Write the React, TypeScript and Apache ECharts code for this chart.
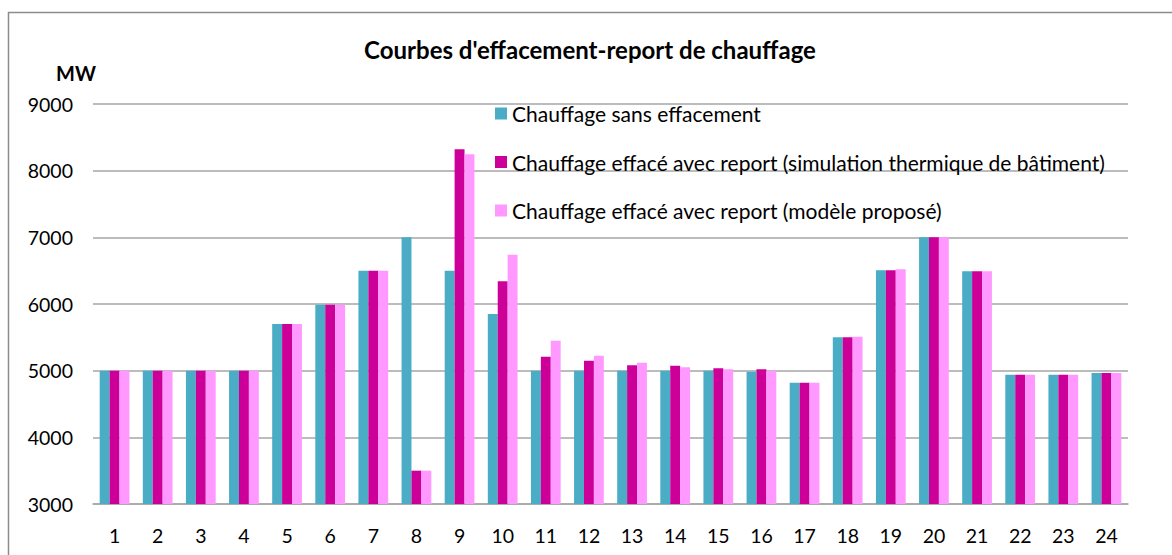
import React, { useEffect, useRef } from "react";
import * as echarts from "echarts";

const hours = ["1","2","3","4","5","6","7","8","9","10","11","12","13","14","15","16","17","18","19","20","21","22","23","24"];
const sansEffacement = [5000,5000,5000,5000,5700,5990,6500,7000,6500,5850,5000,5000,5000,5000,5000,4985,4820,5500,6505,7000,6490,4940,4940,4965];
const simulationThermique = [5000,5000,5000,5000,5700,5990,6500,3500,8320,6340,5210,5150,5080,5075,5035,5020,4820,5500,6505,7000,6490,4940,4940,4965];
const modelePropose = [5000,5000,5000,5000,5700,5990,6500,3500,8245,6740,5450,5225,5120,5050,5020,5000,4820,5510,6520,7000,6490,4940,4940,4965];
const seriesNames = [
  "Chauffage sans effacement",
  "Chauffage effacé avec report (simulation thermique de bâtiment)",
  "Chauffage effacé avec report (modèle proposé)",
];
const colors = ["#4BACC6", "#CC0099", "#FF99FF"];

export default function App() {
  const ref = useRef<HTMLDivElement>(null);
  useEffect(() => {
    document.body.style.margin = "0";
    const chart = echarts.init(ref.current!, null, { renderer: "svg" });
    const font = "Lato, 'Open Sans', sans-serif";
    const datas = [sansEffacement, simulationThermique, modelePropose];
    chart.setOption({
      animation: false,
      textStyle: { fontFamily: font },
      title: {
        text: "Courbes d'effacement-report de chauffage",
        left: 585,
        textAlign: "center",
        top: 31,
        textStyle: { fontSize: 24, fontWeight: "bold", color: "#000", fontFamily: font, lineHeight: 26 },
      },
      graphic: [
        {
          type: "rect",
          shape: { x: 8.5, y: 12.5, width: 1180, height: 560 },
          style: { fill: "none", stroke: "#8c8c8c", lineWidth: 1.5 },
          silent: true,
        },
      ],
      legend: {
        orient: "vertical",
        left: 490,
        top: 98,
        itemWidth: 12,
        itemHeight: 12,
        itemGap: 27.5,
        icon: "rect",
        textStyle: { fontSize: 21, lineHeight: 20, color: "#000", fontFamily: font, padding: [0, 0, 0, 0] },
        data: seriesNames,
      },
      grid: { left: 93, right: 44, top: 104, bottom: 51, containLabel: false },
      xAxis: {
        type: "category",
        data: hours,
        axisTick: { show: false },
        axisLine: { lineStyle: { color: "#a6a6a6", width: 1.5 } },
        axisLabel: { fontSize: 19.5, color: "#000", margin: 21, fontFamily: font },
      },
      yAxis: {
        type: "value",
        name: "MW",
        nameLocation: "end",
        nameGap: 21,
        nameTextStyle: { fontSize: 20, fontWeight: "bold", color: "#000", align: "center", padding: [0, 0, 0, -34], fontFamily: font },
        min: 3000,
        max: 9000,
        interval: 1000,
        axisLine: { show: false },
        axisTick: { show: false },
        axisLabel: { fontSize: 19.5, color: "#000", margin: 20, fontFamily: font, formatter: (v: number) => String(v) },
        splitLine: { lineStyle: { color: "#a6a6a6", width: 1.5 } },
      },
      series: seriesNames.map((name, i) => ({
        name,
        type: "bar",
        data: datas[i],
        barGap: "0%",
        barCategoryGap: "31%",
        itemStyle: { color: colors[i] },
      })),
    });
    return () => chart.dispose();
  }, []);
  return <div ref={ref} style={{ width: 1172, height: 555 }} />;
}
